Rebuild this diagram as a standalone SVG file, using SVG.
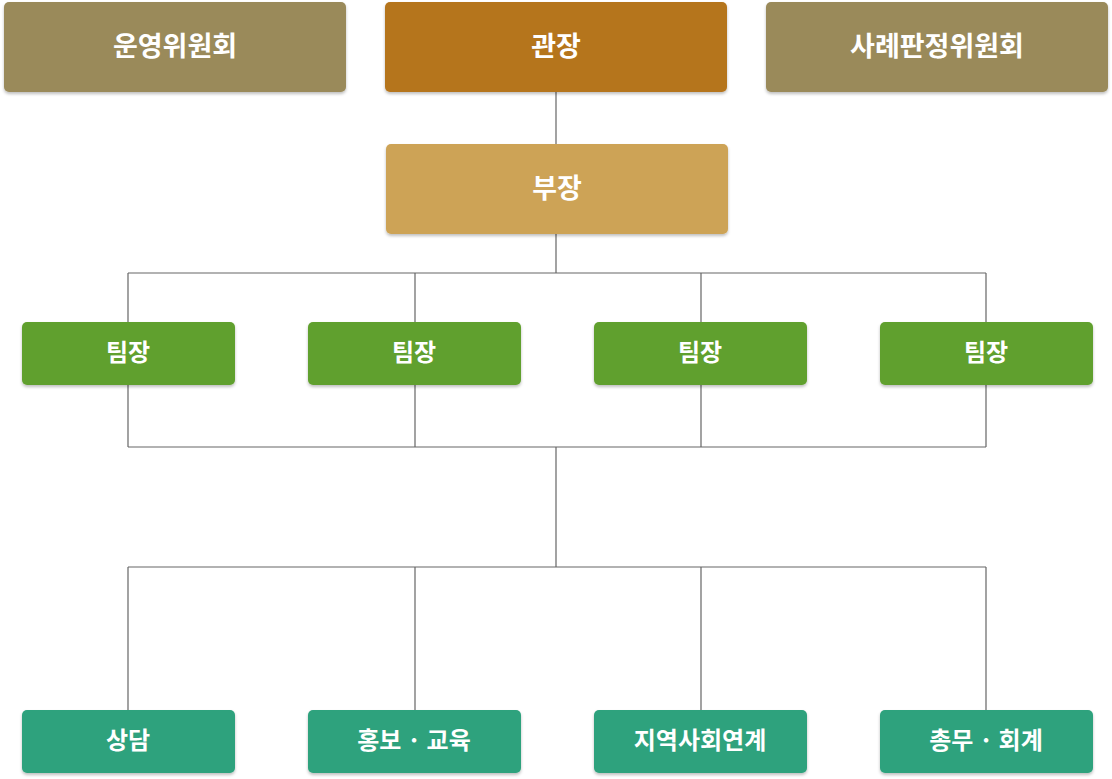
<svg xmlns="http://www.w3.org/2000/svg" width="1112" height="779" viewBox="0 0 1112 779">
<style>
.box{filter:url(#sh)}
.t{font-family:"Noto Sans CJK KR","Noto Sans",sans-serif;font-weight:bold;fill:#fff;text-anchor:middle;dominant-baseline:central}
.big{font-size:27px}
.sm{font-size:24px}
.ln{stroke:#666;stroke-width:1.2;fill:none}
</style>
<defs>
<filter id="sh" x="-10%" y="-20%" width="120%" height="150%">
<feDropShadow dx="0" dy="2" stdDeviation="1.5" flood-color="#000" flood-opacity="0.25"/>
</filter>
</defs>
<g id="connectors">
<path class="ln" d="M556 92V144M556 234V273M128 273H986M128 273V322M415 273V322M701 273V322M986 273V322"/>
<path class="ln" d="M128 385V447M415 385V447M701 385V447M986 385V447M128 447H986M556 447V567M128 567H986M128 567V710M415 567V710M701 567V710M986 567V710"/>
</g>
<g id="n-committee"><rect class="box" x="4" y="2" width="342" height="90" rx="5" fill="#9A8A5A"/><text class="t big" x="175" y="44">운영위원회</text></g>
<g id="n-director"><rect class="box" x="385" y="2" width="342" height="90" rx="5" fill="#B5741C"/><text class="t big" x="556" y="44">관장</text></g>
<g id="n-case"><rect class="box" x="766" y="2" width="342" height="90" rx="5" fill="#9A8A5A"/><text class="t big" x="937" y="44">사례판정위원회</text></g>
<g id="n-manager"><rect class="box" x="386" y="144" width="342" height="90" rx="5" fill="#CDA356"/><text class="t big" x="557" y="186">부장</text></g>
<g id="n-team1"><rect class="box" x="22" y="322" width="213" height="63" rx="5" fill="#61A02E"/><text class="t sm" x="128" y="350">팀장</text></g>
<g id="n-team2"><rect class="box" x="308" y="322" width="213" height="63" rx="5" fill="#61A02E"/><text class="t sm" x="414" y="350">팀장</text></g>
<g id="n-team3"><rect class="box" x="594" y="322" width="213" height="63" rx="5" fill="#61A02E"/><text class="t sm" x="700" y="350">팀장</text></g>
<g id="n-team4"><rect class="box" x="880" y="322" width="213" height="63" rx="5" fill="#61A02E"/><text class="t sm" x="986" y="350">팀장</text></g>
<g id="n-counsel"><rect class="box" x="22" y="710" width="213" height="63" rx="5" fill="#2EA27D"/><text class="t sm" x="128" y="738">상담</text></g>
<g id="n-pr"><rect class="box" x="308" y="710" width="213" height="63" rx="5" fill="#2EA27D"/><text class="t sm" x="414" y="738">홍보 · 교육</text></g>
<g id="n-community"><rect class="box" x="594" y="710" width="213" height="63" rx="5" fill="#2EA27D"/><text class="t sm" x="700" y="738">지역사회연계</text></g>
<g id="n-admin"><rect class="box" x="880" y="710" width="213" height="63" rx="5" fill="#2EA27D"/><text class="t sm" x="986" y="738">총무 · 회계</text></g>
</svg>
